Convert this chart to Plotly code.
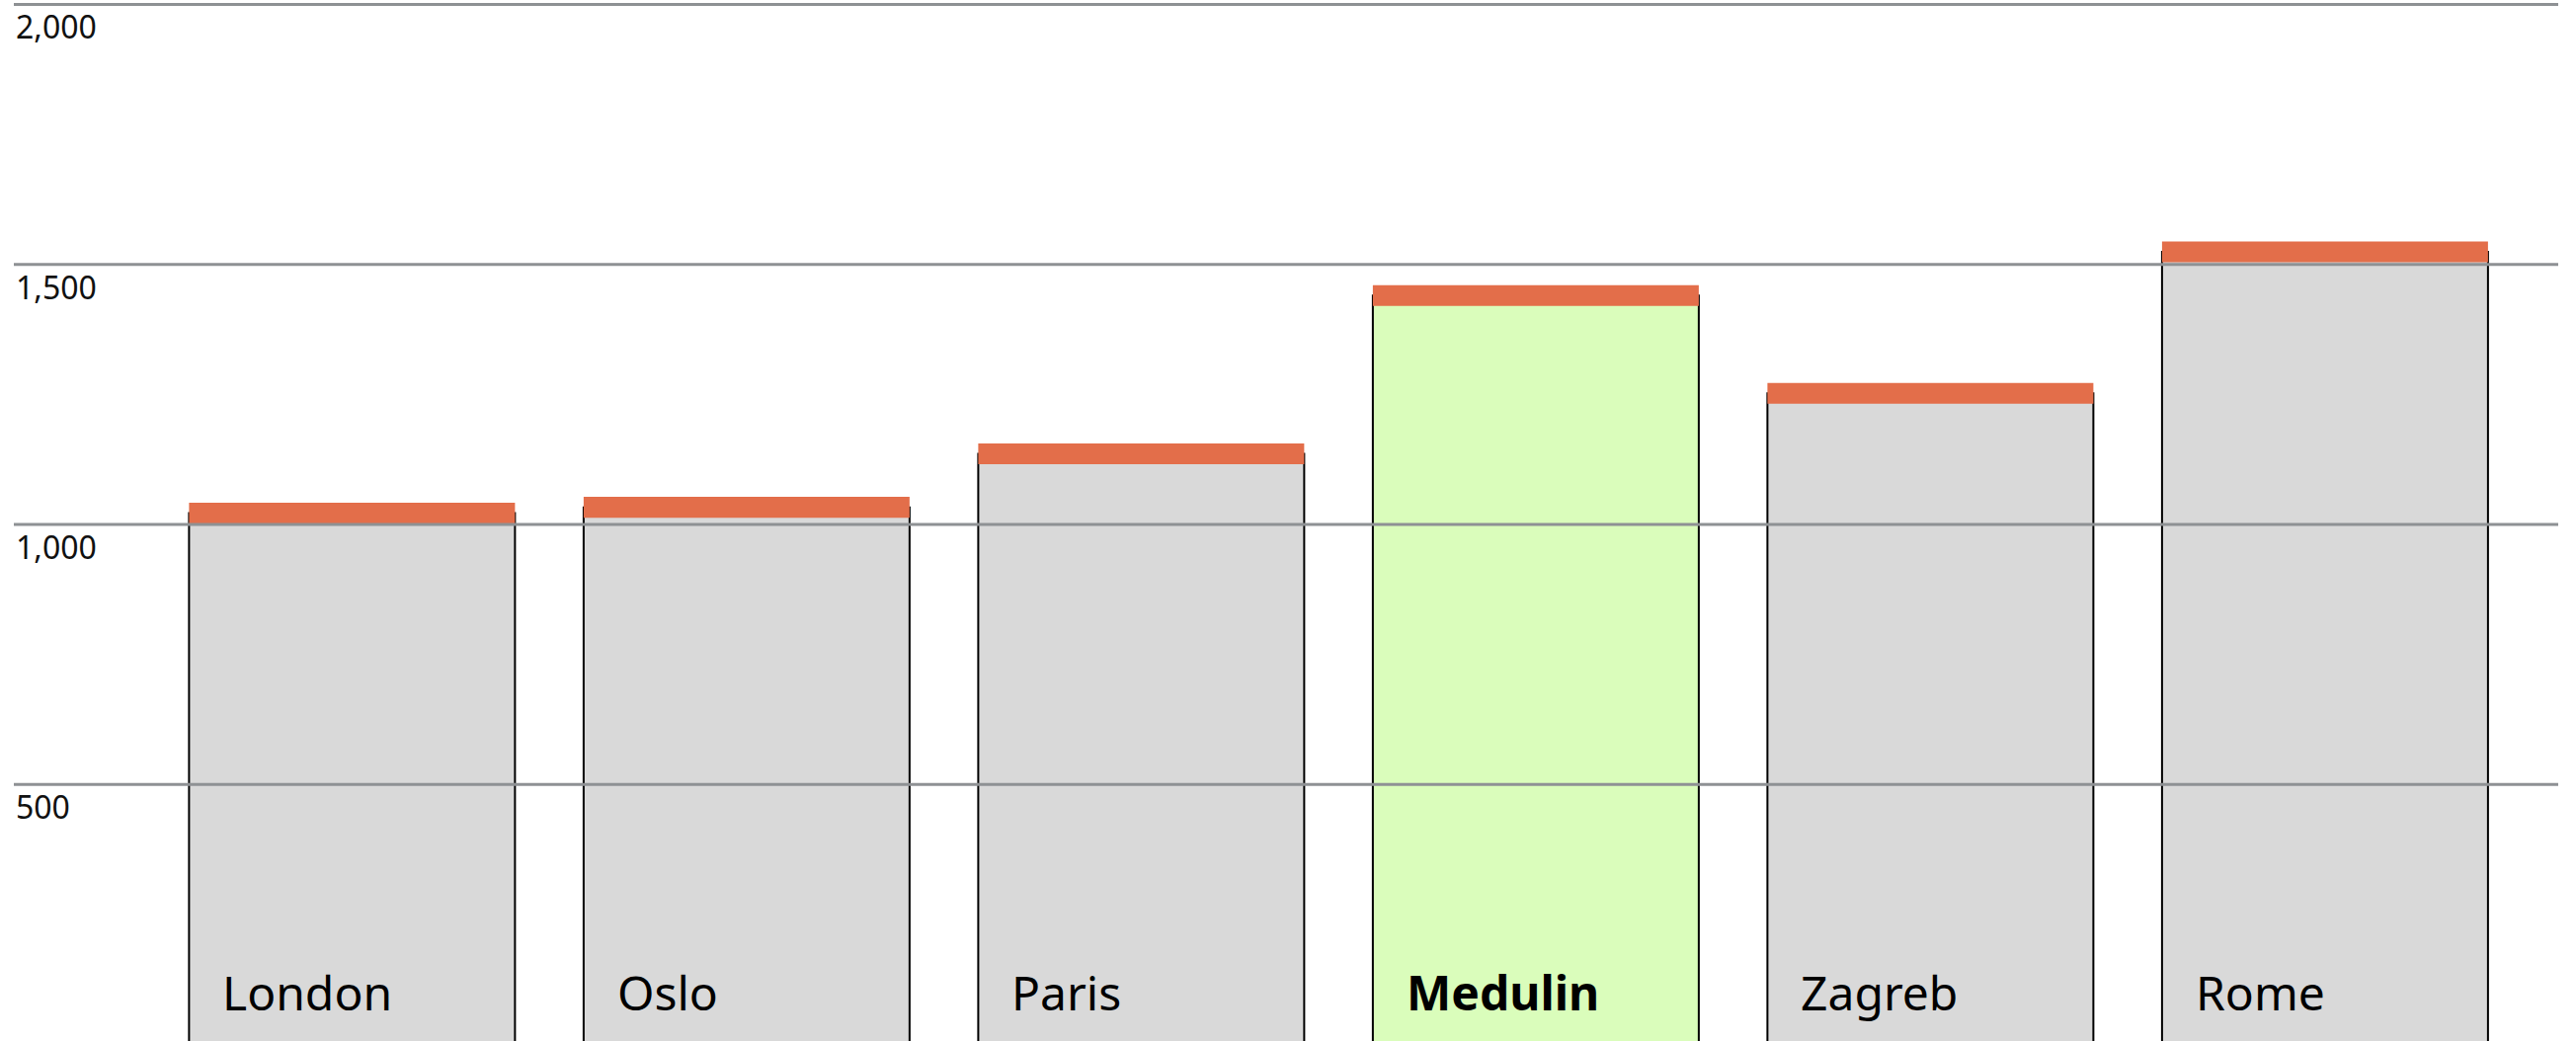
import plotly.graph_objects as go

cities = ["London", "Oslo", "Paris", "Medulin", "Zagreb", "Rome"]
values = [1022, 1033, 1136, 1440, 1252, 1524]
highlight = "Medulin"
band_half = 20
tick_vals = [500, 1000, 1500, 2000]
tick_text = ["500", "1,000", "1,500", "2,000"]

GRAY = "#d9d9d9"
GREEN = "#dafdbb"
ORANGE = "#e36e4a"
GRID = "#8e9194"
FONT = "Noto Sans"

bar_colors = [GREEN if c == highlight else GRAY for c in cities]

fig = go.Figure()
fig.add_trace(go.Bar(
    x=cities, y=values, marker=dict(color=bar_colors, line=dict(color="#000000", width=2)),
    width=0.826, hoverinfo="skip", showlegend=False,
))
fig.add_trace(go.Bar(
    x=cities, y=[2 * band_half] * len(cities), base=[v - band_half for v in values],
    marker=dict(color=ORANGE, line=dict(width=0)), width=0.826,
    hoverinfo="skip", showlegend=False,
))

shapes = []
for tv in tick_vals:
    shapes.append(dict(type="line", xref="paper", x0=0, x1=1, yref="y", y0=tv, y1=tv,
                       line=dict(color=GRID, width=3), layer="above"))

annotations = []
for tv, tt in zip(tick_vals, tick_text):
    annotations.append(dict(text=tt, xref="paper", x=0, xanchor="left", yref="y", y=tv,
                            yanchor="top", yshift=1, showarrow=False,
                            font=dict(family=FONT, size=32, color="#111111")))
for c in cities:
    label = f"<b>{c}</b>" if c == highlight else c
    annotations.append(dict(text=label, xref="x", x=c, xanchor="left", xshift=-133,
                            yref="paper", y=0.047, yanchor="middle", showarrow=False,
                            font=dict(family=FONT, size=48, color="#000000")))

fig.update_layout(
    width=2608, height=1054,
    margin=dict(l=14, r=18, t=0, b=0),
    paper_bgcolor="white", plot_bgcolor="white",
    barmode="overlay",
    xaxis=dict(range=[-0.857, 5.591], showticklabels=False, showgrid=False, zeroline=False,
               showline=False, ticks=""),
    yaxis=dict(range=[6.9, 2008.4], showticklabels=False, showgrid=False, zeroline=False,
               showline=False, ticks=""),
    shapes=shapes, annotations=annotations,
)

fig.write_html("out.html", config={"displayModeBar": False},
               post_script="document.body.style.margin='0';")
